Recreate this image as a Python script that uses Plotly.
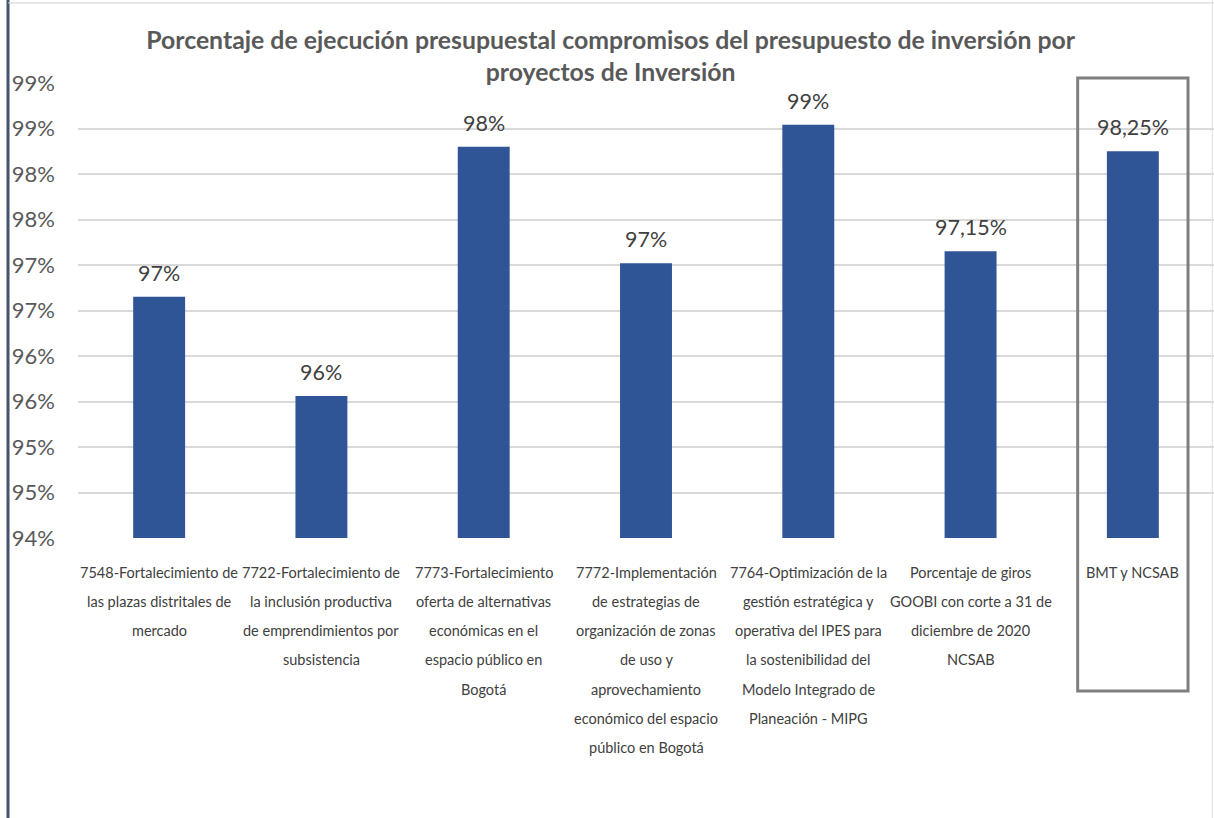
import plotly.graph_objects as go

# Budget execution per investment project (percent)
categorias = [
    ["7548-Fortalecimiento de", "las plazas distritales de", "mercado"],
    ["7722-Fortalecimiento de", "la inclusión productiva", "de emprendimientos por", "subsistencia"],
    ["7773-Fortalecimiento", "oferta de alternativas", "económicas en el", "espacio público en", "Bogotá"],
    ["7772-Implementación", "de estrategias de", "organización de zonas", "de uso y",
     "aprovechamiento", "económico del espacio", "público en Bogotá"],
    ["7764-Optimización de la", "gestión estratégica y", "operativa del IPES para",
     "la sostenibilidad del", "Modelo Integrado de", "Planeación - MIPG"],
    ["Porcentaje de giros", "GOOBI con corte a 31 de", "diciembre de 2020", "NCSAB"],
    ["BMT y NCSAB"],
]
ejecucion = [96.65, 95.56, 98.30, 97.02, 98.54, 97.15, 98.25]
decimales = [0, 0, 0, 0, 0, 2, 2]

titulo = ("Porcentaje de ejecución presupuestal compromisos del presupuesto de inversión por"
          "<br>proyectos de Inversión")

GRIS = "#595959"
AZUL = "#2F5597"

x = list(range(len(ejecucion)))

fig = go.Figure(go.Bar(
    x=x, y=ejecucion, marker_color=AZUL, marker_line_width=0,
    width=0.32, hoverinfo="skip",
))

annotations = []
# value labels above each bar
for xi, v, d in zip(x, ejecucion, decimales):
    txt = f"{v:.{d}f}".replace(".", ",") + "%"
    annotations.append(dict(
        x=xi, y=v, xref="x", yref="y", text=txt, showarrow=False,
        yanchor="bottom", yshift=9,
        font=dict(family="Lato", size=21.5, color="#404040"),
    ))
# multi-line category labels beneath the axis
for xi, lines in zip(x, categorias):
    for i, line in enumerate(lines):
        annotations.append(dict(
            x=xi, y=0, xref="x", yref="paper", text=line, showarrow=False,
            yanchor="middle", yshift=-34 - 29.3 * i,
            font=dict(family="Lato", size=14.5, color="#404040"),
        ))

shapes = [
    # frame highlighting the last category
    dict(type="rect", xref="x", yref="paper", x0=len(x) - 1 - 0.34, x1=len(x) - 1 + 0.34,
         y0=-0.336, y1=1.011, line=dict(color="#7f7f7f", width=3)),
    # page border lines
    dict(type="line", xref="paper", yref="paper", x0=-0.0616, x1=-0.0616, y0=-0.62, y1=1.2,
         line=dict(color="#44546A", width=3)),
    dict(type="line", xref="paper", yref="paper", x0=-0.0616, x1=1.0, y0=1.176, y1=1.176,
         line=dict(color="#d0d0d0", width=1)),
    dict(type="line", xref="paper", yref="paper", x0=0.9985, x1=0.9985, y0=-0.62, y1=1.2,
         line=dict(color="#e0e0e0", width=1)),
]

fig.update_layout(
    width=1214, height=818,
    margin=dict(l=78, r=0, t=83, b=280),
    paper_bgcolor="white", plot_bgcolor="white",
    showlegend=False,
    title=dict(text=titulo, x=0.503, xanchor="center", y=0.940, yanchor="middle",
               font=dict(family="Lato", size=24.8, color=GRIS, weight="bold")),
    xaxis=dict(range=[-0.5, len(x) - 0.5], showticklabels=False, showgrid=False,
               zeroline=False, showline=False, fixedrange=True),
    yaxis=dict(range=[94, 99], dtick=0.5, tick0=94, tickformat=".0f", ticksuffix="%",
               showgrid=True, gridcolor="#d9d9d9", gridwidth=2, zeroline=False,
               showline=False, ticklabelstandoff=22,
               tickfont=dict(family="Lato", size=22, color=GRIS), fixedrange=True),
    annotations=annotations,
    shapes=shapes,
)

fig.write_html("out.html")
